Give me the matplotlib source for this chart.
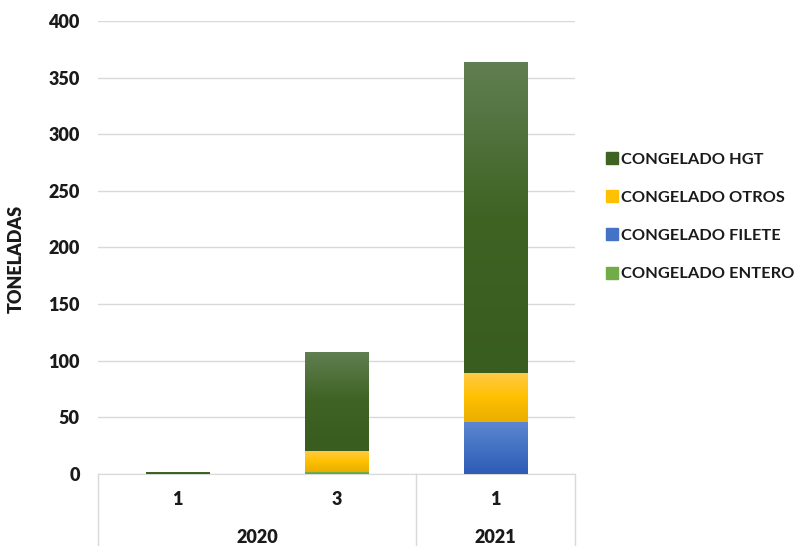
import matplotlib.pyplot as plt
import numpy as np
from matplotlib.colors import LinearSegmentedColormap
from matplotlib.lines import Line2D

plt.rcParams['font.family'] = ['Lato', 'DejaVu Sans']

months = ['1', '3', '1']
years = ['2020', '2021']
year_groups = [[0, 1], [2]]

entero = [0, 2, 0]
filete = [0, 0, 46]
otros = [0, 18, 43]
hgt = [2, 88, 275]

series = [
    ('CONGELADO ENTERO', entero, '#70ad47', ['#66a03f', '#70ad47', '#7fb85a']),
    ('CONGELADO FILETE', filete, '#4472c4', ['#2e5cb6', '#4472c4', '#5d87d0']),
    ('CONGELADO OTROS', otros, '#ffc000', ['#e8ae00', '#ffc000', '#ffca45']),
    ('CONGELADO HGT', hgt, '#3e6323', ['#395c1f', '#3e6323', '#617f52']),
]

txt_col = '#1a1a1a'

fig = plt.figure(figsize=(8.02, 5.46), dpi=100)
ax = fig.add_axes([0.122, 0.132, 0.595, 0.8295])

x = np.arange(len(months))
bottom = np.zeros(len(months))
handles = []
for name, vals, col, stops in series:
    bars = ax.bar(x, vals, 0.4, bottom=bottom, color=col, zorder=2, linewidth=0)
    # vertical gradient, lighter at the top, like the Excel fill
    cmap = LinearSegmentedColormap.from_list(name, stops)
    grad = np.linspace(0, 1, 256).reshape(-1, 1)
    for p in bars.patches:
        if p.get_height() <= 0:
            continue
        x0, y0 = p.get_x(), p.get_y()
        im = ax.imshow(grad, cmap=cmap, origin='lower', aspect='auto',
                       extent=[x0, x0 + p.get_width(), y0, y0 + p.get_height()],
                       zorder=3)
        im.set_clip_path(p)
    bottom += np.array(vals)
    handles.append(Line2D([], [], marker='s', linestyle='none', markersize=8,
                          markerfacecolor=col, markeredgecolor=col, label=name))

ax.set_xlim(-0.5, 2.5)
ax.set_ylim(0, 400)
ax.set_yticks(np.arange(0, 401, 50))
ax.yaxis.grid(True, color='#d9d9d9', linewidth=1)
ax.set_axisbelow(True)
for s in ['top', 'right', 'left']:
    ax.spines[s].set_visible(False)
ax.spines['bottom'].set_color('#d9d9d9')
ax.tick_params(axis='y', length=0, pad=13, labelsize=13)
ax.tick_params(axis='x', length=0, labelbottom=False)
for lab in ax.get_yticklabels():
    lab.set_fontweight('heavy')
    lab.set_color(txt_col)

ax.set_ylabel('TONELADAS', fontsize=13, fontweight='heavy', color=txt_col)
ax.yaxis.set_label_coords(-0.153, 0.475)

# two-level category axis
trans = ax.get_xaxis_transform()
for xi, m in zip(x, months):
    ax.text(xi, -0.057, m, transform=trans, ha='center', va='center',
            fontsize=13, fontweight='heavy', color=txt_col)
for yr, grp in zip(years, year_groups):
    ax.text(np.mean(grp), -0.141, yr, transform=trans, ha='center', va='center',
            fontsize=13, fontweight='heavy', color=txt_col)
for xb in [-0.5, 1.5, 2.5]:
    ax.plot([xb, xb], [0, -0.165], transform=trans, color='#d9d9d9',
            linewidth=1, clip_on=False)

leg = fig.legend(handles=handles[::-1], loc='center left', bbox_to_anchor=(0.736, 0.603),
                 frameon=False, labelspacing=1.45, handletextpad=0.2,
                 handlelength=0.8, prop={'weight': 'bold', 'size': 11.8})
for t in leg.get_texts():
    t.set_color(txt_col)

fig.savefig('out.png', dpi=100)
